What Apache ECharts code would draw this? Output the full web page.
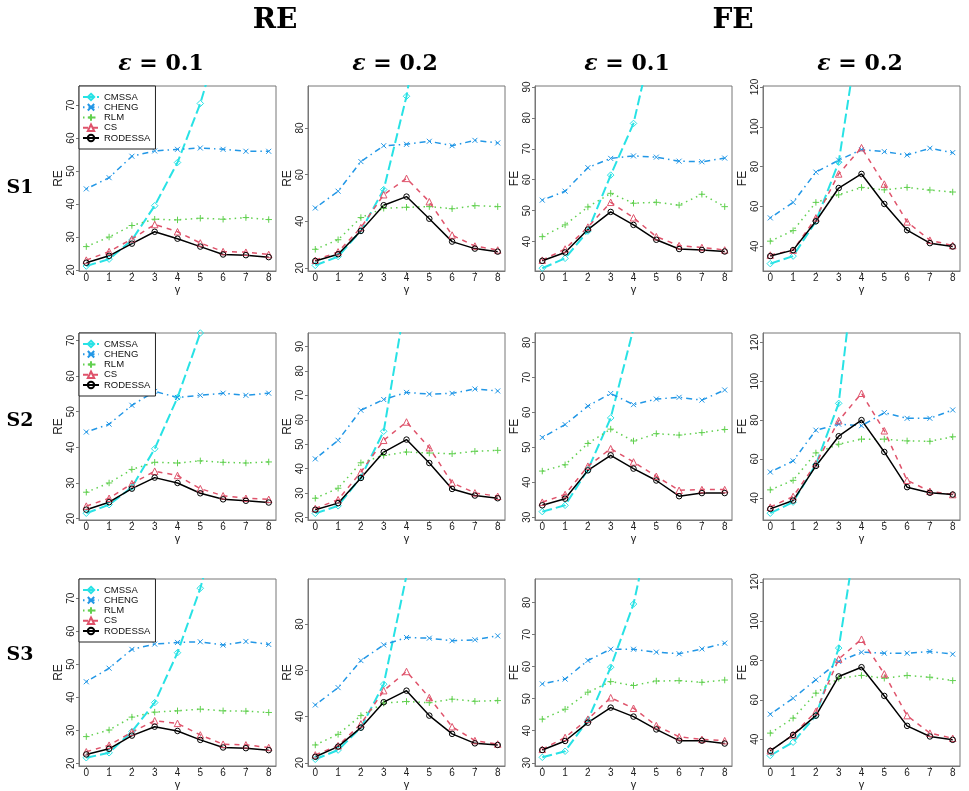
<!DOCTYPE html>
<html>
<head>
<meta charset="utf-8">
<title>RE / FE</title>
<script src="https://cdn.jsdelivr.net/npm/echarts@6/dist/echarts.min.js"></script>
<style>
  html, body { margin: 0; padding: 0; background: #fff; }
  #main { width: 969px; height: 791px; }
</style>
</head>
<body>
<div id="main"></div>
<script>
// x axis: gamma
const gamma = [0, 1, 2, 3, 4, 5, 6, 7, 8];
const methods = ['CMSSA', 'CHENG', 'RLM', 'CS', 'RODESSA'];

// one row per method (same order as `methods`), one value per gamma
const S1_RE_e1 = [
    [21.2, 23.3, 29.1, 39.5, 52.6, 70.5, 94, 126, 168],
    [44.6, 48.0, 54.5, 56.1, 56.6, 57.0, 56.6, 56.0, 56.0],
    [27.1, 30.0, 33.5, 35.4, 35.2, 35.7, 35.4, 35.9, 35.3],
    [23.0, 25.6, 29.4, 33.8, 31.6, 28.2, 25.6, 25.4, 24.7],
    [22.2, 24.3, 28.0, 31.6, 29.5, 27.1, 24.7, 24.5, 23.9]
];
const S1_RE_e2 = [
    [21.1, 24.9, 35.9, 53.6, 93.6, 150, 230, 350, 530],
    [45.7, 52.9, 65.6, 72.4, 73.0, 74.3, 72.4, 74.7, 73.6],
    [28.0, 32.1, 41.6, 45.6, 46.0, 46.3, 45.4, 46.7, 46.3],
    [23.3, 26.9, 37.3, 51.4, 58.4, 48.4, 34.1, 29.4, 27.7],
    [23.0, 25.9, 35.9, 46.9, 50.6, 41.1, 31.3, 28.3, 27.0]
];
const S1_FE_e1 = [
    [31.4, 34.6, 43.4, 61.5, 78.2, 110, 150, 200, 260],
    [53.4, 56.3, 63.9, 66.9, 67.7, 67.3, 66.0, 65.8, 67.0],
    [41.6, 45.4, 51.2, 55.6, 52.4, 52.7, 51.8, 55.3, 51.3],
    [34.0, 37.6, 44.7, 52.7, 47.7, 41.6, 38.7, 38.1, 37.3],
    [33.8, 36.5, 43.9, 49.6, 45.4, 40.6, 37.6, 37.3, 36.8]
];
const S1_FE_e2 = [
    [31.2, 35.0, 52.5, 82.2, 157, 240, 360, 540, 800],
    [54.2, 62.0, 77.2, 83.2, 88.5, 87.5, 85.8, 89.2, 87.0],
    [42.5, 47.8, 62.0, 65.8, 69.5, 68.3, 69.5, 68.2, 67.2],
    [35.5, 38.0, 54.2, 76.3, 89.5, 71.2, 52.2, 43.0, 40.3],
    [35.0, 38.0, 52.5, 69.2, 76.3, 61.2, 48.0, 41.5, 39.8]
];
const S2_RE_e1 = [
    [21.5, 23.9, 28.8, 39.6, 54.0, 72.1, 96, 128, 170],
    [44.3, 46.5, 51.8, 55.7, 54.0, 54.6, 55.2, 54.6, 55.2],
    [27.4, 30.0, 33.8, 35.8, 35.6, 36.2, 35.8, 35.6, 35.9],
    [23.5, 25.7, 29.8, 33.3, 32.1, 28.4, 26.4, 25.7, 25.4],
    [22.5, 24.6, 28.4, 31.5, 30.0, 27.1, 25.4, 25.0, 24.5]
];
const S2_RE_e2 = [
    [21.7, 24.8, 36.5, 55.3, 111, 180, 280, 430, 650],
    [44.0, 51.6, 63.9, 68.3, 71.2, 70.5, 70.8, 72.6, 71.8],
    [27.9, 32.0, 42.4, 45.4, 46.8, 46.4, 46.1, 47.1, 47.5],
    [23.7, 27.3, 38.6, 51.6, 59.1, 48.6, 34.2, 30.1, 28.7],
    [23.2, 25.9, 36.2, 46.8, 51.9, 42.3, 31.7, 29.0, 27.9]
];
const S2_FE_e1 = [
    [31.6, 33.4, 43.6, 58.4, 84, 120, 170, 240, 330],
    [52.8, 56.5, 61.8, 65.4, 62.2, 63.8, 64.3, 63.5, 66.4],
    [43.2, 45.0, 51.1, 55.2, 51.8, 53.9, 53.5, 54.2, 55.1],
    [34.3, 36.5, 44.6, 49.6, 45.8, 41.7, 37.7, 37.9, 37.9],
    [33.4, 35.3, 43.4, 47.7, 43.9, 40.5, 36.0, 36.9, 36.9]
];
const S2_FE_e2 = [
    [32.1, 37.8, 57.2, 88.6, 190, 300, 460, 700, 1050],
    [53.3, 59.0, 74.8, 77.9, 77.1, 83.8, 80.9, 80.9, 85.2],
    [44.1, 49.0, 63.1, 67.6, 70.2, 70.2, 69.3, 69.1, 71.4],
    [35.2, 40.7, 57.6, 79.7, 93.8, 74.5, 49.0, 43.4, 41.7],
    [34.3, 38.6, 56.4, 71.7, 80.0, 63.6, 45.5, 42.6, 41.7]
];
const S3_RE_e1 = [
    [21.7, 23.2, 29.6, 38.4, 53.5, 73.0, 98, 130, 175],
    [44.7, 48.8, 54.5, 56.1, 56.6, 56.8, 55.8, 56.9, 56.0],
    [28.1, 30.1, 34.0, 35.5, 35.9, 36.4, 35.9, 35.8, 35.4],
    [23.5, 25.5, 29.5, 32.9, 32.1, 28.6, 25.8, 25.6, 24.8],
    [22.7, 24.4, 28.4, 31.1, 29.8, 27.1, 24.8, 24.6, 24.0]
];
const S3_RE_e2 = [
    [21.5, 25.5, 35.2, 54.0, 101, 160, 250, 380, 580],
    [45.0, 52.5, 64.2, 71.0, 74.2, 73.9, 72.8, 73.2, 74.9],
    [27.7, 32.3, 40.4, 45.8, 46.5, 46.0, 47.5, 46.6, 46.9],
    [23.4, 27.4, 36.8, 51.2, 59.5, 48.2, 35.6, 29.6, 28.1],
    [22.6, 27.0, 35.2, 46.2, 51.2, 40.4, 32.5, 28.4, 27.7]
];
const S3_FE_e1 = [
    [31.7, 33.6, 43.3, 59.8, 79.5, 112, 150, 200, 270],
    [54.6, 56.1, 61.9, 65.4, 65.4, 64.5, 64.0, 65.5, 67.3],
    [43.6, 46.7, 52.0, 55.3, 54.1, 55.5, 55.6, 55.1, 55.8],
    [34.2, 37.9, 43.6, 50.3, 47.0, 41.6, 38.1, 37.3, 36.9],
    [34.0, 36.8, 42.5, 47.2, 44.4, 40.4, 36.9, 36.9, 36.0]
];
const S3_FE_e2 = [
    [31.7, 38.5, 52.0, 86.3, 161, 250, 380, 570, 850],
    [52.7, 60.8, 70.2, 79.5, 84.2, 83.7, 83.7, 84.6, 83.2],
    [43.1, 50.7, 63.4, 71.0, 72.4, 71.0, 72.4, 71.5, 69.8],
    [34.1, 42.2, 54.1, 80.7, 90.8, 73.2, 52.0, 43.1, 40.5],
    [34.1, 42.2, 52.0, 71.9, 76.6, 62.0, 46.8, 41.4, 39.7]
];

// y tick labels
const ticksA = [20, 30, 40, 50, 60, 70];
const ticksB = [20, 40, 60, 80];
const ticksC = [20, 30, 40, 50, 60, 70, 80, 90];
const ticksD = [30, 40, 50, 60, 70, 80];
const ticksE = [40, 50, 60, 70, 80, 90];
const ticksF = [40, 60, 80, 100, 120];

const colTitles = ['RE', 'FE'];
const epsTitles = ['0.1', '0.2', '0.1', '0.2'];
const rowTitles = ['S1', 'S2', 'S3'];

// panel layout
const colLeft = [79, 308, 535, 763];
const rowTop = [86, 333, 579];
const rowH = [185, 187, 187];
const boxW = 197;

const panels = [
    {row: 0, col: 0, data: S1_RE_e1, ticks: ticksA, yr: [19.7, 75.8], name: 'RE'},
    {row: 0, col: 1, data: S1_RE_e2, ticks: ticksB, yr: [18.7, 98], name: 'RE'},
    {row: 0, col: 2, data: S1_FE_e1, ticks: ticksE, yr: [30.5, 90.3], name: 'FE'},
    {row: 0, col: 3, data: S1_FE_e2, ticks: ticksF, yr: [27.5, 120.5], name: 'FE'},
    {row: 1, col: 0, data: S2_RE_e1, ticks: ticksA, yr: [19.6, 72.1], name: 'RE'},
    {row: 1, col: 1, data: S2_RE_e2, ticks: ticksC, yr: [19, 95.5], name: 'RE'},
    {row: 1, col: 2, data: S2_FE_e1, ticks: ticksD, yr: [29.2, 82.7], name: 'FE'},
    {row: 1, col: 3, data: S2_FE_e2, ticks: ticksF, yr: [28.6, 124.8], name: 'FE'},
    {row: 2, col: 0, data: S3_RE_e1, ticks: ticksA, yr: [19.2, 75.8], name: 'RE'},
    {row: 2, col: 1, data: S3_RE_e2, ticks: ticksB, yr: [18.6, 99.5], name: 'RE'},
    {row: 2, col: 2, data: S3_FE_e1, ticks: ticksD, yr: [29.0, 87.3], name: 'FE'},
    {row: 2, col: 3, data: S3_FE_e2, ticks: ticksF, yr: [26.4, 121.4], name: 'FE'}
];

// R palette colours / lty / pch
const colors = ['#28E2E5', '#2297E6', '#61D04F', '#DF536B', '#000000'];
const dashes = [[10, 4], [1.5, 4, 6, 4], [1.5, 4], [5, 5], 'solid'];
const widths = [2, 1.5, 1.5, 1.5, 1.5];
const symbols = [
    'diamond',
    'path://M0,0L10,10M10,0L0,10',
    'path://M5,0L5,10M0,5L10,5',
    'triangle',
    'circle'
];
const symSizes = [6.5, 5, 6.5, 6.5, 5.5];

const sans = 'Liberation Sans, Arial, sans-serif';
const serif = 'DejaVu Serif, Liberation Serif, serif';
const axisGray = '#777';

const grids = [], xAxes = [], yAxes = [], series = [], legends = [];
panels.forEach((p, i) => {
    grids.push({
        left: colLeft[p.col], top: rowTop[p.row], width: boxW, height: rowH[p.row],
        show: true, borderColor: axisGray, borderWidth: 1,
        containLabel: false, outerBoundsMode: 'none'
    });
    xAxes.push({
        gridIndex: i, type: 'value', min: -0.32, max: 8.32,
        name: 'γ', nameLocation: 'middle', nameGap: 13,
        nameTextStyle: {fontFamily: sans, fontSize: 11, color: '#222'},
        axisLine: {show: true, onZero: false, lineStyle: {color: axisGray}},
        axisTick: {show: true, customValues: gamma, length: 3, lineStyle: {color: axisGray}},
        axisLabel: {customValues: gamma, margin: 2, fontSize: 10, fontFamily: sans, color: '#222'},
        splitLine: {show: false}
    });
    yAxes.push({
        gridIndex: i, type: 'value', min: p.yr[0], max: p.yr[1],
        name: p.name, nameLocation: 'middle', nameGap: 12, nameRotate: 90,
        nameTextStyle: {fontFamily: sans, fontSize: 12, color: '#222'},
        axisLine: {show: true, onZero: false, lineStyle: {color: axisGray}},
        axisTick: {show: true, customValues: p.ticks, length: 3, lineStyle: {color: axisGray}},
        axisLabel: {customValues: p.ticks, rotate: 90, margin: 3, fontSize: 10, fontFamily: sans, color: '#222'},
        splitLine: {show: false}
    });
    methods.forEach((m, k) => {
        series.push({
            type: 'line', name: m, xAxisIndex: i, yAxisIndex: i,
            data: gamma.map((g, j) => [g, p.data[k][j]]),
            symbol: symbols[k], symbolSize: symSizes[k],
            lineStyle: {color: colors[k], width: widths[k], type: dashes[k]},
            itemStyle: {color: 'rgba(255,255,255,0)', borderColor: colors[k], borderWidth: 1},
            clip: true, silent: true, animation: false
        });
    });
});

rowTop.forEach(t => {
    legends.push({
        left: colLeft[0], top: t, orient: 'vertical', data: methods,
        itemWidth: 16, itemHeight: 8, itemGap: 0.25,
        padding: [6, 5, 6, 3], borderColor: '#222', borderWidth: 1,
        backgroundColor: '#fff', selectedMode: false,
        textStyle: {fontSize: 9.5, lineHeight: 10, fontFamily: sans, color: '#111'}
    });
});

const graphic = [];
const headX = [275, 733];
colTitles.forEach((t, i) => {
    graphic.push({type: 'text', x: headX[i], y: 21, style: {
        text: t, textAlign: 'center', textVerticalAlign: 'middle',
        fontFamily: serif, fontWeight: 'bold', fontSize: 28, fill: '#000'}});
});
const epsX = [161, 395, 627, 860];
epsTitles.forEach((t, i) => {
    graphic.push({type: 'text', x: epsX[i], y: 64, style: {
        text: '{e|ε} = ' + t, textAlign: 'center', textVerticalAlign: 'middle',
        fontFamily: serif, fontWeight: 'bold', fontSize: 22, fill: '#000',
        rich: {e: {fontStyle: 'italic', fontWeight: 'bold', fontFamily: serif, fontSize: 22}}}});
});
const rowY = [188, 421, 655];
rowTitles.forEach((t, i) => {
    graphic.push({type: 'text', x: 20, y: rowY[i], style: {
        text: t, textAlign: 'center', textVerticalAlign: 'middle',
        fontFamily: serif, fontWeight: 'bold', fontSize: 19, fill: '#000'}});
});

const chart = echarts.init(document.getElementById('main'), null, {renderer: 'canvas'});
chart.setOption({
    backgroundColor: '#fff',
    animation: false,
    grid: grids,
    xAxis: xAxes,
    yAxis: yAxes,
    legend: legends,
    graphic: graphic,
    series: series
});
</script>
</body>
</html>
